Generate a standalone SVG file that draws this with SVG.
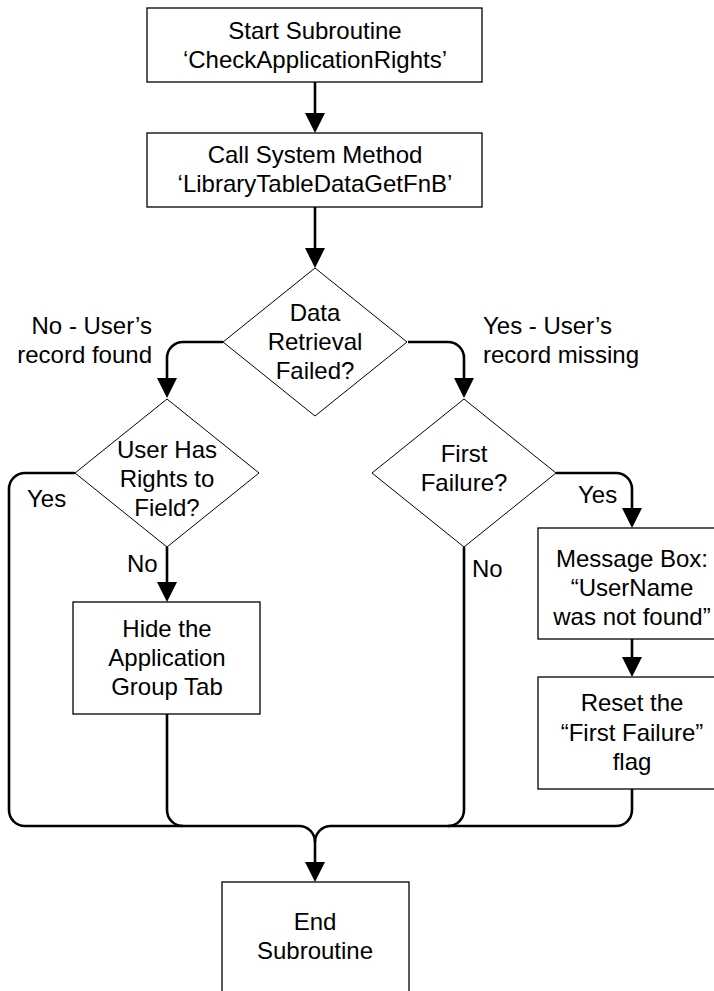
<svg xmlns="http://www.w3.org/2000/svg" width="714" height="991" viewBox="0 0 714 991">
<style>
.box{fill:#fff;stroke:#000;stroke-width:1.3}
.dia{fill:#fff;stroke:#000;stroke-width:1}
.t{font-family:"Liberation Sans",Arial,sans-serif;font-size:24px;fill:#000;text-anchor:middle}
.l{font-family:"Liberation Sans",Arial,sans-serif;font-size:24px;fill:#000}
.c{fill:none;stroke:#000;stroke-width:2.6}
.ca{fill:none;stroke:#000;stroke-width:2.6;marker-end:url(#ah)}
</style>
<defs>
<marker id="ah" viewBox="0 0 20 20" refX="0" refY="10" markerWidth="20" markerHeight="20" markerUnits="userSpaceOnUse" orient="auto">
<path d="M0,0 L20,10 L0,20 z" fill="#000"/>
</marker>
</defs>
<rect width="714" height="991" fill="#fff"/>
<g id="connectors">
<path class="ca" d="M315,82 V113"/>
<path class="ca" d="M315,207 V248"/>
<path class="ca" d="M223,342 H183 A16,16 0 0 0 167,358 V378"/>
<path class="ca" d="M408,342 H448 A16,16 0 0 1 464,358 V378"/>
<path class="ca" d="M167,547 V582"/>
<path class="ca" d="M556,473 H616 A16,16 0 0 1 632,489 V508"/>
<path class="ca" d="M632,639 V657"/>
<path class="c" d="M75,473 H25 A16,16 0 0 0 9,489 V810 A16,16 0 0 0 25,826 H299 A16,16 0 0 1 315,842"/>
<path class="c" d="M167,714 V810 A16,16 0 0 0 183,826"/>
<path class="c" d="M632,789 V810 A16,16 0 0 1 616,826 H331 A16,16 0 0 0 315,842"/>
<path class="c" d="M464,547 V810 A16,16 0 0 1 448,826"/>
<path class="ca" d="M315,842 V862"/>
<text class="l" x="152" y="334" text-anchor="end">No - User’s</text>
<text class="l" x="152" y="363" text-anchor="end">record found</text>
<text class="l" x="483" y="334">Yes - User’s</text>
<text class="l" x="483" y="363">record missing</text>
<text class="l" x="27" y="507">Yes</text>
<text class="l" x="127" y="572">No</text>
<text class="l" x="578" y="503">Yes</text>
<text class="l" x="472" y="577">No</text>
</g>
<g id="start">
<rect class="box" x="147" y="8" width="335" height="74"/>
<text class="t" x="315" y="39">Start Subroutine</text>
<text class="t" x="315" y="68">‘CheckApplicationRights’</text>
</g>
<g id="call">
<rect class="box" x="147" y="133" width="335" height="74"/>
<text class="t" x="315" y="163">Call System Method</text>
<text class="t" x="315" y="192">‘LibraryTableDataGetFnB’</text>
</g>
<g id="retrieval">
<path class="dia" d="M315,268 L407,342 L315,416 L223,342 z"/>
<text class="t" x="315" y="321">Data</text>
<text class="t" x="315" y="350">Retrieval</text>
<text class="t" x="315" y="379">Failed?</text>
</g>
<g id="rights">
<path class="dia" d="M167,399 L259,473 L167,547 L75,473 z"/>
<text class="t" x="167" y="458">User Has</text>
<text class="t" x="167" y="487">Rights to</text>
<text class="t" x="167" y="516">Field?</text>
</g>
<g id="firstfailure">
<path class="dia" d="M464,399 L556,473 L464,547 L372,473 z"/>
<text class="t" x="464" y="462">First</text>
<text class="t" x="464" y="491">Failure?</text>
</g>
<g id="hide">
<rect class="box" x="73" y="602" width="187" height="112"/>
<text class="t" x="167" y="637">Hide the</text>
<text class="t" x="167" y="666">Application</text>
<text class="t" x="167" y="695">Group Tab</text>
</g>
<g id="message">
<rect class="box" x="538" y="528" width="188" height="111"/>
<text class="t" x="632" y="567">Message Box:</text>
<text class="t" x="632" y="596">“UserName</text>
<text class="t" x="632" y="625">was not found”</text>
</g>
<g id="reset">
<rect class="box" x="538" y="677" width="188" height="112"/>
<text class="t" x="632" y="711">Reset the</text>
<text class="t" x="632" y="741">“First Failure”</text>
<text class="t" x="632" y="770">flag</text>
</g>
<g id="end">
<rect class="box" x="222" y="882" width="187" height="130"/>
<text class="t" x="315" y="930">End</text>
<text class="t" x="315" y="959">Subroutine</text>
</g>
</svg>
